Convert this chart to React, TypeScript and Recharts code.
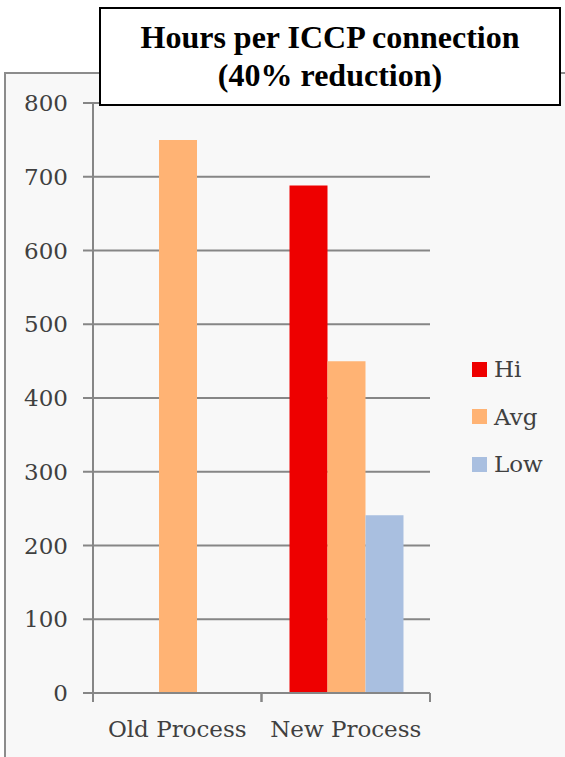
import React from 'react';
import { BarChart, Bar, XAxis, YAxis, CartesianGrid, Legend } from 'recharts';

// values
const categories = ['Old Process', 'New Process'];
const hiValues = [null, 688];
const avgValues = [750, 450];
const lowValues = [null, 241];
const yTicks = [0, 100, 200, 300, 400, 500, 600, 700, 800];

const seriesNames = ['Hi', 'Avg', 'Low'];
const seriesColors = ['#ee0000', '#ffb374', '#a9bfe0'];

const data = categories.map((name, i) => ({
  name,
  Hi: hiValues[i],
  Avg: avgValues[i],
  Low: lowValues[i],
}));

const AXIS = '#868686';
const TEXT = '#404040';
const FONT = '"DejaVu Serif", serif';
const FS = 23;
const LEGEND_W = 90;

// category label with boundary ticks (excel-style)
const CategoryTick = (props: any) => {
  const { x, y, payload } = props;
  const half = payload?.offset ?? (props.width ? props.width / categories.length / 2 : 84);
  return (
    <g>
      <line x1={x - half} y1={y} x2={x - half} y2={y + 9} stroke={AXIS} strokeWidth={2} />
      <line x1={x + half} y1={y} x2={x + half} y2={y + 9} stroke={AXIS} strokeWidth={2} />
      <text x={x} y={y + 44} textAnchor="middle" fill={TEXT} fontSize={FS} fontFamily={FONT}>
        {payload.value}
      </text>
    </g>
  );
};

const SideLegend = () => (
  <div style={{ fontFamily: FONT, fontSize: FS, color: TEXT }}>
    {seriesNames.map((s, i) => (
      <div key={s} style={{ height: 47.5, display: 'flex', alignItems: 'center' }}>
        <span style={{ width: 15, height: 15, background: seriesColors[i], marginRight: 7, display: 'inline-block' }} />
        <span>{s}</span>
      </div>
    ))}
  </div>
);

export default function App() {
  return (
    <div style={{ position: 'absolute', left: 0, top: 0, width: 565, height: 757, overflow: 'hidden', background: '#fff' }}>
      {/* chart area panel */}
      <div
        style={{
          position: 'absolute',
          left: 4,
          top: 72,
          width: 640,
          height: 760,
          border: '2px solid #8c8c8c',
          background: '#f8f8f8',
        }}
      />
      <div style={{ position: 'absolute', left: 0, top: 0 }}>
        <BarChart
          width={565}
          height={757}
          data={data}
          margin={{ top: 103, right: 135 - LEGEND_W, left: 0, bottom: 24 }}
          barCategoryGap={28}
          barGap={0}
        >
          <CartesianGrid vertical={false} stroke={AXIS} strokeWidth={2} />
          <XAxis
            dataKey="name"
            height={40}
            axisLine={{ stroke: AXIS, strokeWidth: 2 }}
            tickLine={false}
            tickSize={0}
            tickMargin={0}
            tick={<CategoryTick />}
            interval={0}
          />
          <YAxis
            width={93}
            domain={[0, 800]}
            ticks={yTicks}
            axisLine={{ stroke: AXIS, strokeWidth: 2 }}
            tickLine={{ stroke: AXIS, strokeWidth: 2 }}
            tickSize={10}
            tickMargin={15}
            tick={{ fill: TEXT, fontSize: FS, fontFamily: FONT }}
          />
          <Legend
            layout="vertical"
            align="right"
            verticalAlign="top"
            content={<SideLegend />}
            wrapperStyle={{ left: 472, top: 345.5, width: LEGEND_W }}
          />
          {seriesNames.map((s, i) => (
            <Bar key={s} dataKey={s} fill={seriesColors[i]} isAnimationActive={false} />
          ))}
        </BarChart>
      </div>
      {/* title box */}
      <div
        style={{
          position: 'absolute',
          left: 99,
          top: 7,
          width: 462,
          height: 99,
          boxSizing: 'border-box',
          border: '2px solid #000',
          background: '#fff',
          paddingTop: 9,
          textAlign: 'center',
          fontFamily: '"Liberation Serif", "Times New Roman", serif',
          fontWeight: 'bold',
          fontSize: 32,
          lineHeight: '38px',
          color: '#000',
        }}
      >
        Hours per ICCP connection
        <br />
        (40% reduction)
      </div>
    </div>
  );
}
